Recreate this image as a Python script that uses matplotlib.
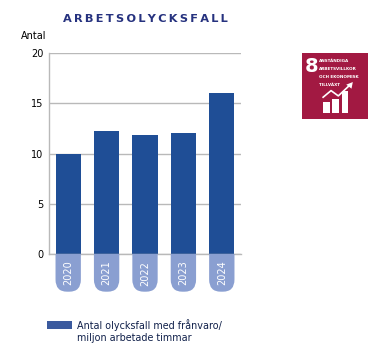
import matplotlib
matplotlib.use('Agg')
import matplotlib.pyplot as plt
from matplotlib.patches import Rectangle, PathPatch, Polygon
from matplotlib.path import Path

years = ['2020', '2021', '2022', '2023', '2024']
values = [10.0, 12.2, 11.8, 12.0, 16.0]
y_ticks = [0, 5, 10, 15, 20]
icon_lines = ['ANSTÄNDIGA', 'ARBETSVILLKOR', 'OCH EKONOMISK', 'TILLVÄXT']
icon_bars = [0.17, 0.22, 0.33]

W, H = 381, 354
BLUE = '#1f4e96'
PILL = '#8a9fd1'
GRID = '#b9b9b9'
SDG = '#a21942'

fig = plt.figure(figsize=(W / 100, H / 100), dpi=100)
ax = fig.add_axes([49 / W, 1 - 254 / H, 192 / W, 201 / H])
ax.set_xlim(-0.5, 4.5)
ax.set_ylim(0, 20)

ax.set_yticks(y_ticks)
ax.grid(axis='y', color=GRID, lw=1)
ax.set_axisbelow(True)
ax.tick_params(axis='y', length=0, pad=4, labelsize=7, labelcolor='black')
ax.tick_params(axis='x', length=0, labelbottom=False)
ax.set_xticks(range(len(years)))
for s in ['top', 'right']:
    ax.spines[s].set_visible(False)
for s in ['left', 'bottom']:
    ax.spines[s].set_color(GRID)
    ax.spines[s].set_linewidth(1)

bar_w = 0.66
ax.bar(range(len(years)), values, width=bar_w, color=BLUE, zorder=2)

# pillerna under staplarna med årtalen
pill_h = 3.75
rx, ry = 0.3, 1.2
for i, yr in enumerate(years):
    l, r = i - bar_w / 2, i + bar_w / 2
    verts = [(l, 0), (l, -pill_h + ry), (l, -pill_h), (l + rx, -pill_h),
             (r - rx, -pill_h), (r, -pill_h), (r, -pill_h + ry), (r, 0), (l, 0)]
    codes = [Path.MOVETO, Path.LINETO, Path.CURVE3, Path.CURVE3,
             Path.LINETO, Path.CURVE3, Path.CURVE3, Path.LINETO, Path.CLOSEPOLY]
    ax.add_patch(PathPatch(Path(verts, codes), fc=PILL, ec='none', clip_on=False, zorder=3))
    ax.text(i, -1.9, yr, rotation=90, ha='center', va='center', color='white',
            fontsize=7, clip_on=False, zorder=4)

title = '\u2009'.join('ARBETSOLYCKSFALL')
fig.text(145.5 / W, 1 - 19 / H, title, ha='center', va='center',
         color='#26327f', fontsize=8.2, fontweight='bold')
fig.text(21 / W, 1 - 36 / H, 'Antal', ha='left', va='center', fontsize=7, color='black')

# legenden
fig.patches.append(Rectangle((47 / W, 1 - 329 / H), 25 / W, 8 / H, transform=fig.transFigure,
                             fc='#3b5a9e', ec='none'))
fig.text(77 / W, 1 - 325 / H, 'Antal olycksfall med frånvaro/', ha='left', va='center',
         fontsize=6.9, color='#10204a')
fig.text(77 / W, 1 - 338 / H, 'miljon arbetade timmar', ha='left', va='center',
         fontsize=6.9, color='#10204a')

# SDG-ikonen
icon = fig.add_axes([302 / W, 1 - 119 / H, 66 / W, 66 / H])
icon.set_xlim(0, 1)
icon.set_ylim(0, 1)
icon.set_facecolor(SDG)
icon.set_xticks([])
icon.set_yticks([])
for s in icon.spines.values():
    s.set_visible(False)
icon.text(0.145, 0.80, '8', color='white', fontsize=14, fontweight='bold', ha='center', va='center',
          family=['Liberation Sans Narrow', 'DejaVu Sans'])
for i, t in enumerate(icon_lines):
    icon.text(0.255, 0.88 - i * 0.123, t, color='white', fontsize=3.0, fontweight='bold',
              ha='left', va='center')
for i, h in enumerate(icon_bars):
    icon.add_patch(Rectangle((0.32 + i * 0.14, 0.09), 0.10, h, fc='white', ec='none'))
icon.plot([0.32, 0.44, 0.55, 0.71], [0.33, 0.43, 0.35, 0.50], color='white', lw=1.2)
icon.add_patch(Polygon([(0.67, 0.52), (0.77, 0.56), (0.75, 0.46)], fc='white', ec='none'))

fig.savefig('out.png', dpi=100)
